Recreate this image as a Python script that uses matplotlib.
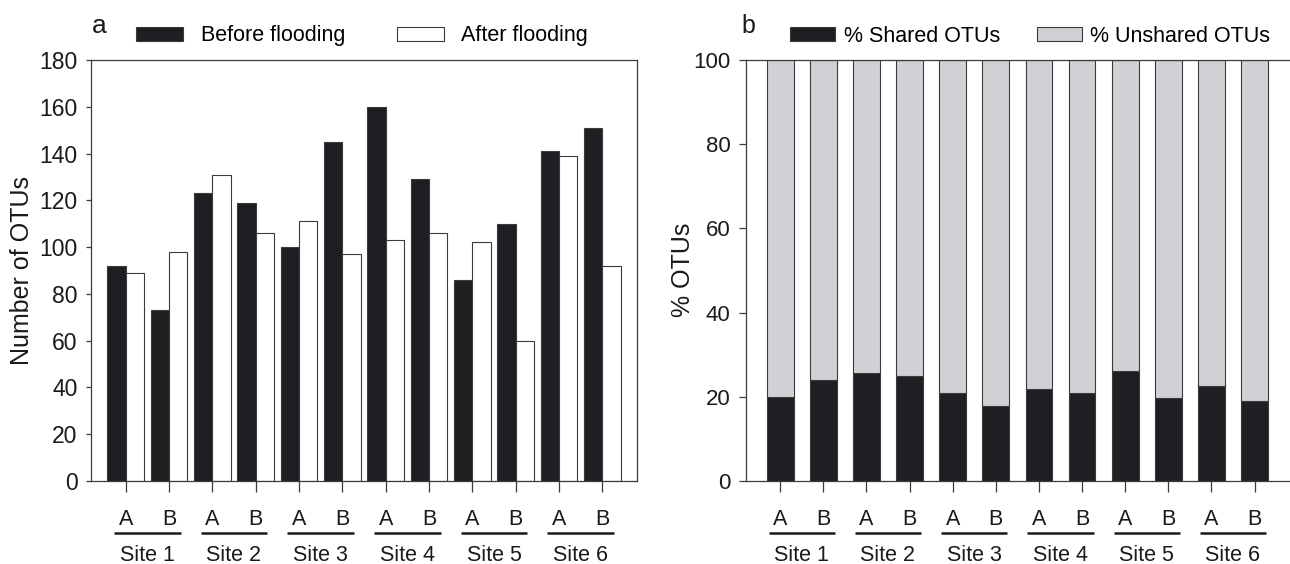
import matplotlib
matplotlib.use("Agg")
import matplotlib.pyplot as plt
from matplotlib.transforms import blended_transform_factory
import numpy as np

plt.rcParams['font.family'] = ['Liberation Sans', 'DejaVu Sans']

# ---------------- data ----------------
sites = ["Site 1", "Site 2", "Site 3", "Site 4", "Site 5", "Site 6"]
subplots = ["A", "B"]
before_flooding = [92, 73, 123, 119, 100, 145, 160, 129, 86, 110, 141, 151]
after_flooding = [89, 98, 131, 106, 111, 97, 103, 106, 102, 60, 139, 92]
shared_pct = [20.0, 24.1, 25.7, 25.0, 21.0, 17.9, 21.8, 21.0, 26.1, 19.6, 22.6, 19.1]
unshared_pct = [100 - v for v in shared_pct]

BLACK = "#1e1f22"
GRAY = "#d0d1d5"
EDGE = "#3a3a3a"
SPINE = "#3c3c3c"

W, H = 1290, 564
fig = plt.figure(figsize=(W / 100, H / 100), dpi=100)

def frac_box(x0, y0, x1, y1):
    return [x0 / W, 1 - y1 / H, (x1 - x0) / W, (y1 - y0) / H]

axA = fig.add_axes(frac_box(91, 60, 637, 481))
axB = fig.add_axes(frac_box(745.7, 60, 1289, 481))

labels = [s for _ in sites for s in subplots]
x = np.arange(len(labels))

# ---------------- panel a ----------------
bw = 0.42
bA1 = axA.bar(x - bw / 2, before_flooding, width=bw, color=BLACK, edgecolor=EDGE, linewidth=0.8,
              label="Before flooding")
bA2 = axA.bar(x + bw / 2, after_flooding, width=bw, color="white", edgecolor=EDGE, linewidth=0.8,
              label="After flooding")
axA.set_ylim(0, 180)
axA.set_yticks(np.arange(0, 181, 20))
axA.set_xlim(-0.8, 11.8)

# ---------------- panel b ----------------
bB1 = axB.bar(x, shared_pct, width=0.62, color=BLACK, edgecolor=EDGE, linewidth=0.8,
              label="% Shared OTUs")
bB2 = axB.bar(x, unshared_pct, width=0.62, bottom=shared_pct, color=GRAY, edgecolor=EDGE,
              linewidth=0.8, label="% Unshared OTUs")
axB.set_ylim(0, 100)
axB.set_yticks(np.arange(0, 101, 20))
axB.set_xlim(-0.8, 11.8)
axB.spines['right'].set_visible(False)

for ax, ylen, lsz in ((axA, 3.8, 16.5), (axB, 5.0, 16)):
    for sp in ax.spines.values():
        sp.set_color(SPINE)
        sp.set_linewidth(0.9)
    ax.set_xticks(x)
    ax.set_xticklabels([])
    ax.tick_params(axis='x', direction='out', length=8, width=0.9, color=SPINE)
    ax.tick_params(axis='y', direction='out', length=ylen, width=0.9, color=SPINE,
                   labelsize=lsz, pad=6, labelcolor="#1a1a1a")
    tr = blended_transform_factory(ax.transData, ax.transAxes)
    for i, lab in enumerate(labels):
        ax.text(i, -0.1045, lab, transform=tr, ha='center', va='baseline', fontsize=15.5,
                color="#1a1a1a")
    for k, s in enumerate(sites):
        c = 2 * k + 0.5
        ax.plot([c - 0.77, c + 0.77], [-0.1228, -0.1228], transform=tr, clip_on=False,
                color="#1a1a1a", lw=1.8, solid_capstyle='butt')
        ax.text(c, -0.189, s, transform=tr, ha='center', va='baseline', fontsize=15.5,
                color="#1a1a1a")

fig.text(22 / W, 1 - 270 / H, "Number of OTUs", rotation=90, ha='center', va='center',
         fontsize=18, color="#1a1a1a")
fig.text(683 / W, 1 - 270 / H, "% OTUs", rotation=90, ha='center', va='center',
         fontsize=18, color="#1a1a1a")

fig.text(99.5 / W, 1 - 33.3 / H, "a", ha='center', va='baseline', fontsize=19, color="#1a1a1a")
fig.text(748 / W, 1 - 33.3 / H, "b", ha='center', va='baseline', fontsize=18, color="#1a1a1a")

legA = axA.legend(handles=[bA1, bA2], loc='center left', bbox_to_anchor=(136 / W, 1 - 36 / H),
                  bbox_transform=fig.transFigure, ncol=2, frameon=False, fontsize=15.5,
                  handlelength=2.2, handleheight=0.6, handletextpad=0.8, columnspacing=2.4,
                  borderpad=0, borderaxespad=0)
legB = axB.legend(handles=[bB1, bB2], loc='center left', bbox_to_anchor=(790 / W, 1 - 36 / H),
                  bbox_transform=fig.transFigure, ncol=2, frameon=False, fontsize=15.5,
                  handlelength=2.1, handleheight=0.6, handletextpad=0.4, columnspacing=1.7,
                  borderpad=0, borderaxespad=0)

fig.savefig("out.png", dpi=100)
